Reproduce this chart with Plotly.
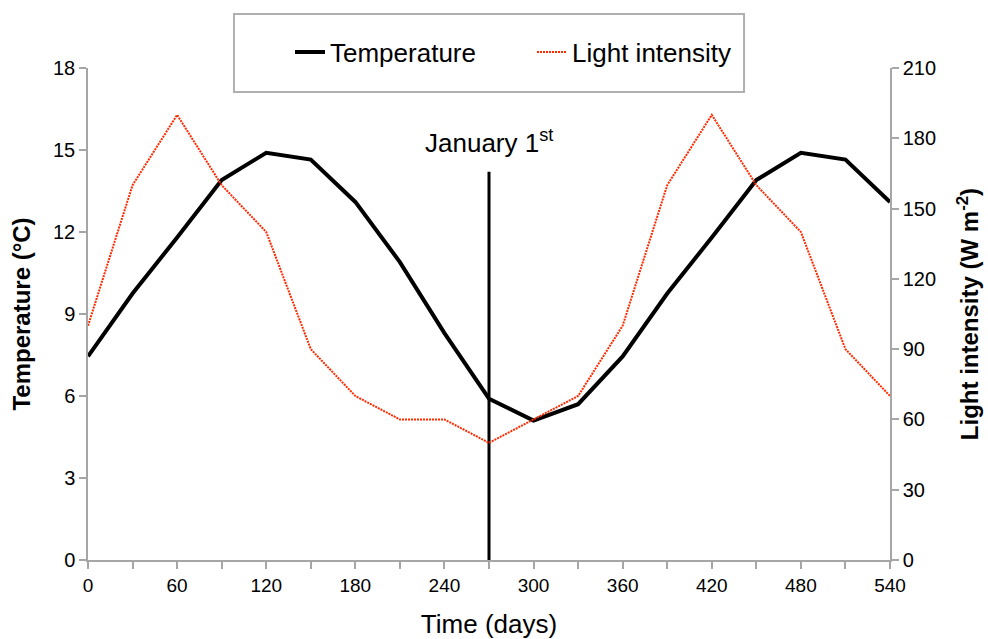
import plotly.graph_objects as go

# Data
days = [0, 30, 60, 90, 120, 150, 180, 210, 240, 270, 300, 330, 360, 390, 420, 450, 480, 510, 540]
temperature = [7.45, 9.75, 11.8, 13.9, 14.9, 14.65, 13.1, 10.9, 8.3, 5.9, 5.1, 5.7, 7.45, 9.75, 11.8, 13.9, 14.9, 14.65, 13.1]
light = [100, 160, 190, 160, 140, 90, 70, 60, 60, 50, 60, 70, 100, 160, 190, 160, 140, 90, 70]
jan1_day = [270, 270]
jan1_span = [0, 14.2]
x_ticks = [0, 60, 120, 180, 240, 300, 360, 420, 480, 540]
temp_ticks = [0, 3, 6, 9, 12, 15, 18]
light_ticks = [0, 30, 60, 90, 120, 150, 180, 210]

FONT = "Liberation Sans, Arial, sans-serif"
AXIS = "#a6a6a6"

fig = go.Figure()
fig.add_trace(go.Scatter(x=jan1_day, y=jan1_span, mode="lines",
                         line=dict(color="black", width=3), showlegend=False, hoverinfo="skip"))
fig.add_trace(go.Scatter(x=days, y=temperature, mode="lines", name="Temperature",
                         line=dict(color="black", width=4)))
fig.add_trace(go.Scatter(x=days, y=light, mode="lines", name="Light intensity", yaxis="y2",
                         line=dict(color="#ff2a00", width=2, dash="2px,1px")))

fig.add_annotation(x=270, y=14.62, xref="x", yref="y", text="January 1<sup>st</sup>",
                   showarrow=False, font=dict(family=FONT, size=26, color="black"), yanchor="bottom")

fig.add_shape(type="rect", xref="paper", yref="paper", x0=0.182, x1=0.818, y0=0.951, y1=1.110,
              line=dict(color="#b0b0b0", width=2), fillcolor="rgba(0,0,0,0)", layer="below")

fig.update_layout(
    width=988, height=639,
    margin=dict(l=88, r=98, t=68, b=79, autoexpand=False),
    plot_bgcolor="white", paper_bgcolor="white",
    font=dict(family=FONT, color="black"),
    showlegend=True,
    legend=dict(orientation="h", x=(290 - 88) / 802, xanchor="left", y=(560 - 52) / 492, yanchor="middle",
                font=dict(family=FONT, size=26, color="black"), bgcolor="rgba(0,0,0,0)",
                entrywidth=197, entrywidthmode="pixels", itemwidth=30),
    xaxis=dict(range=[0, 540], tickvals=x_ticks, ticks="outside", ticklen=7, tickcolor=AXIS, tickwidth=1.5,
               showline=True, linecolor=AXIS, linewidth=1.5, showgrid=False, zeroline=False,
               minor=dict(dtick=30, tick0=0, ticks="outside", ticklen=7, tickcolor=AXIS, tickwidth=1.5),
               tickfont=dict(family=FONT, size=19), automargin=False,
               title=dict(text="Time (days)", font=dict(family=FONT, size=26), standoff=20)),
    yaxis=dict(range=[0, 18], tickvals=temp_ticks, ticks="outside", ticklen=7, tickcolor=AXIS, tickwidth=1.5,
               showline=True, linecolor=AXIS, linewidth=1.5, showgrid=False, zeroline=False,
               tickfont=dict(family=FONT, size=20), automargin=False,
               title=dict(text="<b>Temperature (°C)</b>", font=dict(family=FONT, size=24), standoff=16)),
    yaxis2=dict(range=[0, 210], tickvals=light_ticks, overlaying="y", side="right", ticks="outside", ticklen=7,
                tickcolor=AXIS, tickwidth=1.5, showline=True, linecolor=AXIS, linewidth=1.5,
                showgrid=False, zeroline=False, tickfont=dict(family=FONT, size=20), automargin=False,
                title=dict(text="<b>Light intensity (W m<sup>-2</sup>)</b>", font=dict(family=FONT, size=24),
                           standoff=26)),
)

fig.write_html("out.html", config={"displayModeBar": False},
               post_script="document.body.style.margin='0';")
